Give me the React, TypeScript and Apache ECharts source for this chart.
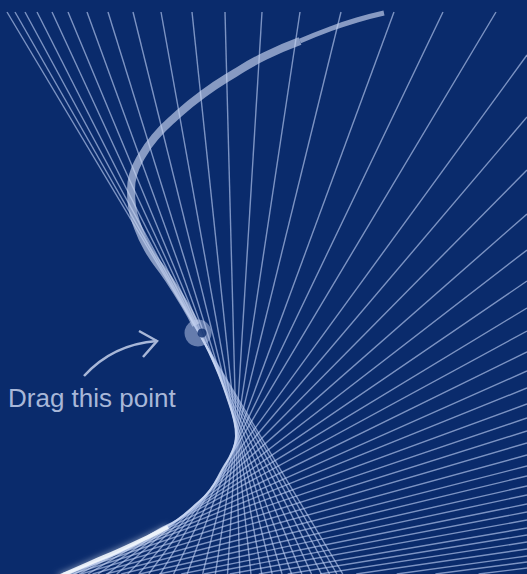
import React, { useEffect, useRef } from "react";
import * as echarts from "echarts";

const W = 527;
const H = 574;
const TOP = 12;
const BG = "#0a2b6c";

// where each string line meets the top edge (x, px)
const topEdgeX = [7, 15, 25, 37, 52, 68, 87, 108, 133, 161, 192, 225, 262, 300, 341, 394, 443, 496];
// where each string line meets the right edge (y, px)
const rightEdgeY = [55, 117, 170, 214, 250, 281, 308, 331, 352, 371, 388, 404, 418, 431, 443, 455, 466, 476, 486, 495, 504, 512, 520, 528, 535, 542, 549, 556, 562, 568];
// envelope the strings wrap around (visible part)
const envelopeCurve = [
  [200, 335], [209, 352], [219, 375], [228, 400], [234, 420], [236, 436], [232, 452],
  [223, 468], [210, 490], [193, 507], [177, 520], [160, 529], [140, 541], [117, 553],
  [90, 564], [63, 574],
];
// envelope continuing below the frame
const envelopeBeyond = [
  [30, 586], [-5, 598], [-45, 611], [-90, 624], [-140, 637], [-195, 650], [-255, 662], [-320, 673],
];
// thick translucent guide curve
const guideCurve = [
  [196, 325], [185, 305], [168, 278], [148, 249], [136, 222], [132, 206], [131, 190],
  [133, 175], [141, 157], [155, 137], [175, 117], [203, 94], [235, 73], [265, 56], [300, 41],
];
const guideTip = [[300, 41], [330, 29], [357, 20], [384, 13]];
const highlightCurve = [[58, 577], [90, 563], [120, 550], [148, 537], [168, 527]];
const dragPoint = [198, 333];
const labelText = "Drag this point";

function densify(pts: number[][], n = 20): number[][] {
  const out: number[][] = [];
  for (let i = 0; i < pts.length - 1; i++) {
    const p0 = pts[Math.max(0, i - 1)], p1 = pts[i], p2 = pts[i + 1], p3 = pts[Math.min(pts.length - 1, i + 2)];
    for (let k = 0; k < n; k++) {
      const t = k / n, t2 = t * t, t3 = t2 * t;
      const f = (a: number, b: number, c: number, d: number) =>
        0.5 * (2 * b + (-a + c) * t + (2 * a - 5 * b + 4 * c - d) * t2 + (-a + 3 * b - 3 * c + d) * t3);
      out.push([f(p0[0], p1[0], p2[0], p3[0]), f(p0[1], p1[1], p2[1], p3[1])]);
    }
  }
  out.push(pts[pts.length - 1]);
  return out;
}

function tangentFrom(px: number, py: number, dense: number[][]): number[] {
  let best = Infinity, bx = 0, by = 0;
  for (const [x, y] of dense) {
    let a = Math.atan2(y - py, x - px);
    if (a < 0) a += Math.PI * 2;
    if (a < best) { best = a; bx = x; by = y; }
  }
  return [bx - px, by - py];
}

function rayEnd(px: number, py: number, dx: number, dy: number): number[] {
  let t = Infinity;
  if (dx > 0) t = Math.min(t, (W - px) / dx);
  else if (dx < 0) t = Math.min(t, (0 - px) / dx);
  if (dy > 0) t = Math.min(t, (H - py) / dy);
  else if (dy < 0) t = Math.min(t, (TOP - py) / dy);
  return [px + dx * t, py + dy * t];
}

function buildLines() {
  const dense = densify(envelopeCurve.concat(envelopeBeyond));
  const starts: number[][] = topEdgeX.map((x) => [x, TOP]).concat(rightEdgeY.map((y) => [W, y]));
  return starts.map(([px, py]) => {
    const [dx, dy] = tangentFrom(px, py, dense);
    return { coords: [[px, py], rayEnd(px, py, dx, dy)] };
  });
}

export default function App() {
  const ref = useRef<HTMLDivElement>(null);
  useEffect(() => {
    if (!ref.current) return;
    const chart = echarts.init(ref.current, null, { renderer: "svg" });
    const textColor = "#a8b7d8";
    const guideColor = "rgba(200,213,240,0.66)";
    chart.setOption({
      backgroundColor: BG,
      animation: false,
      grid: { left: 0, right: 0, top: TOP, bottom: 0 },
      xAxis: { type: "value", min: 0, max: W, show: false },
      yAxis: { type: "value", min: TOP, max: H, inverse: true, show: false },
      series: [
        {
          type: "lines",
          coordinateSystem: "cartesian2d",
          data: buildLines(),
          silent: true,
          lineStyle: { color: "rgba(190,206,244,0.64)", width: 1.4, opacity: 1 },
          z: 2,
        },
        {
          type: "line",
          data: envelopeCurve,
          smooth: true,
          symbol: "none",
          silent: true,
          lineStyle: { color: "rgba(200,214,242,0.88)", width: 2 },
          z: 3,
        },
        {
          type: "line",
          data: guideCurve,
          smooth: true,
          symbol: "none",
          silent: true,
          lineStyle: { color: guideColor, width: 8, cap: "butt" },
          z: 4,
        },
        {
          type: "line",
          data: guideTip,
          smooth: true,
          symbol: "none",
          silent: true,
          lineStyle: { color: guideColor, width: 5, cap: "butt" },
          z: 4,
        },
        {
          type: "line",
          data: highlightCurve,
          smooth: true,
          symbol: "none",
          silent: true,
          lineStyle: {
            color: "rgba(240,245,252,0.92)",
            width: 4,
            shadowBlur: 6,
            shadowColor: "rgba(255,255,255,0.7)",
          },
          z: 5,
        },
        {
          type: "scatter",
          data: [dragPoint],
          symbolSize: 27,
          silent: true,
          itemStyle: { color: "rgba(188,203,235,0.64)" },
          z: 6,
        },
        {
          type: "scatter",
          data: [dragPoint],
          symbolSize: 9,
          symbolOffset: [4, 0],
          silent: true,
          itemStyle: { color: BG },
          z: 7,
        },
      ],
      graphic: [
        {
          type: "text",
          x: 8,
          y: 398,
          style: {
            text: labelText,
            fill: textColor,
            fontSize: 26,
            fontFamily: '"Liberation Sans", Arial, sans-serif',
            verticalAlign: "middle",
            textVerticalAlign: "middle",
          },
        },
        {
          type: "bezierCurve",
          shape: { x1: 84, y1: 376, cpx1: 104, cpy1: 354, cpx2: 130, cpy2: 343, x2: 157, y2: 341 },
          style: { stroke: textColor, lineWidth: 2.5, fill: null },
        },
        {
          type: "polyline",
          shape: { points: [[139, 331], [157, 341], [143, 357]] },
          style: { stroke: textColor, lineWidth: 2.5, fill: null },
        },
      ],
    });
    return () => chart.dispose();
  }, []);
  return <div ref={ref} style={{ position: "fixed", left: 0, top: 0, width: W, height: H }} />;
}
